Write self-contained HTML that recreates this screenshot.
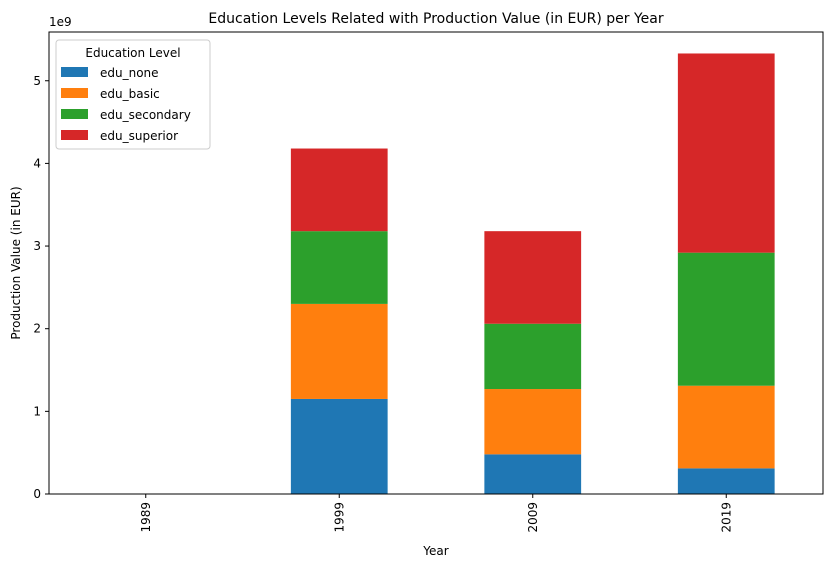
<!DOCTYPE html>
<html><head><meta charset="utf-8"><style>
body{margin:0;background:#fff;font-family:"Liberation Sans","DejaVu Sans",sans-serif;}
</style></head><body>
<svg id="c" width="833" height="569" xmlns="http://www.w3.org/2000/svg" font-family="DejaVu Sans, Liberation Sans, sans-serif"></svg>
<script>
const categories=["1989","1999","2009","2019"];
const seriesNames=["edu_none","edu_basic","edu_secondary","edu_superior"];
const eduNone=[0,1.15,0.48,0.31];
const eduBasic=[0,1.15,0.79,1.0];
const eduSecondary=[0,0.88,0.79,1.61];
const eduSuperior=[0,1.0,1.12,2.41];
const yTicks=[0,1,2,3,4,5];
const colors=["#1f77b4","#ff7f0e","#2ca02c","#d62728"];
const series=[eduNone,eduBasic,eduSecondary,eduSuperior];
const L=49,R=823,T=32,B=494;
const ns="http://www.w3.org/2000/svg";
const svg=document.getElementById('c');
const step=(R-L)/categories.length;
const x=i=>L+step*(i+0.5);
const y=v=>B-v*82.65;
function el(t,a,txt){const e=document.createElementNS(ns,t);for(const k in a)e.setAttribute(k,a[k]);if(txt!==undefined)e.textContent=txt;svg.appendChild(e);return e;}
categories.forEach((c,i)=>{let acc=0;series.forEach((s,j)=>{const v=s[i];if(v>0){const r=el('rect',{x:x(i)-step/4,y:y(acc+v),width:step/2,height:y(acc)-y(acc+v),fill:colors[j]});

}acc+=v;});
const tk=el('line',{x1:x(i),x2:x(i),y1:B,y2:B+4,stroke:'#000'});


const t=el('text',{x:0,y:0,'font-size':12,'text-anchor':'end',transform:`translate(${x(i)+4},${B+8}) rotate(-90)`},c);

});
yTicks.forEach(v=>{const tk=el('line',{x1:L-4,x2:L,y1:y(v),y2:y(v),stroke:'#000'});


const t=el('text',{x:L-8,y:y(v)+4,'font-size':12,'text-anchor':'end'},String(v));

});
const fr=el('rect',{x:L,y:T,width:R-L,height:B-T,fill:'none',stroke:'#000','stroke-width':1});


const ex=el('text',{x:L,y:T-6,'font-size':12},'1e9');


const ti=el('text',{x:(L+R)/2,y:23,'font-size':14,'text-anchor':'middle'},'Education Levels Related with Production Value (in EUR) per Year');


const xl=el('text',{x:(L+R)/2,y:555,'font-size':12,'text-anchor':'middle'},'Year');


const yl=el('text',{x:0,y:0,'font-size':12,'text-anchor':'middle',transform:`translate(20,${(T+B)/2}) rotate(-90)`},'Production Value (in EUR)');


const lg=el('rect',{x:56,y:40,width:154,height:109,fill:'#fff',stroke:'#ccc',rx:3});


const lt=el('text',{x:133,y:57,'font-size':12,'text-anchor':'middle'},'Education Level');


seriesNames.forEach((n,j)=>{const yy=72+j*21;
const sw=el('rect',{x:61,y:yy-5,width:27,height:10,fill:colors[j]});


const t=el('text',{x:100,y:yy+5,'font-size':12},n);

});
</script>
</body></html>
